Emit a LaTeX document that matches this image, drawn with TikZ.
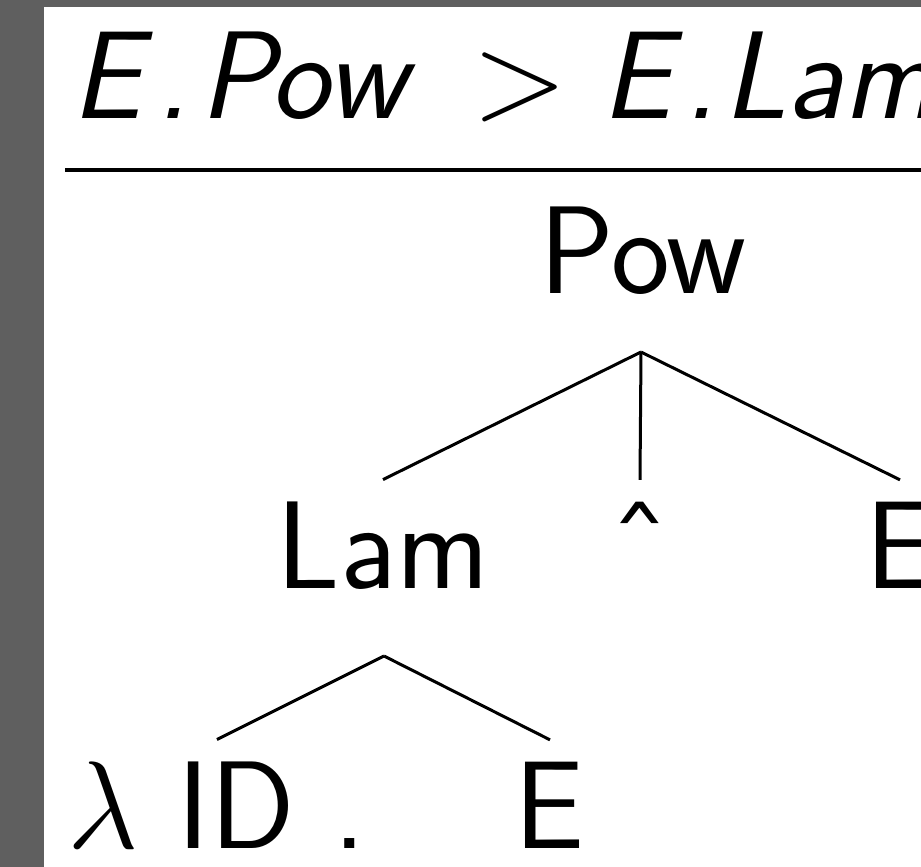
\RequirePackage{fix-cm}
\documentclass[tikz,border=0pt]{standalone}
\usepackage{tikz}
\usepackage{xcolor}
\definecolor{slidegray}{RGB}{95,95,95}

\begin{document}
\begin{tikzpicture}[
    x=0.25pt, y=-0.25pt,
    lbl/.style={inner sep=0pt, anchor=base, font=\fontsize{31.2}{36}\selectfont\sffamily},
    branch/.style={line width=0.75pt},
    rulebar/.style={line width=0.9pt}
]
\useasboundingbox (0,0) rectangle (921,867);
\clip (0,0) rectangle (921,867);
\fill[slidegray] (0,0) rectangle (921,867);
\fill[white] (44,7) rectangle (921,867);
% heading
\node[lbl, anchor=base west] (title) at (71,118) {\(\textsf{\itshape E\kern.12em.\kern.08em Pow}\kern.25em > \textsf{\itshape E\kern.1em.\kern.05em Lam}\)};
\draw[rulebar] (65,170) -- (960,170);
% tree
\node[lbl] (pow) at (643,293) {Pow};
\node[lbl] (lam) at (383,588) {Lam};
\node[lbl] (hat) at (640,588) {\char"02C6};
\node[lbl] (expr) at (900,588) {E};
\node[lbl] (lamhead) at (217,848) {$\lambda$ ID .};
\node[lbl] (body) at (550,848) {E};
\coordinate (powfork) at (641,352);
\coordinate (lamfork) at (384,656);
\draw[branch] (powfork) -- ([yshift=5.25pt]lam.north);
\draw[branch] (powfork) -- ([yshift=5.25pt]hat.north);
\draw[branch] (powfork) -- ([yshift=5.25pt]expr.north);
\draw[branch] (lamfork) -- ([yshift=5.25pt]lamhead.north);
\draw[branch] (lamfork) -- ([yshift=5.25pt]body.north);
\end{tikzpicture}
\end{document}
